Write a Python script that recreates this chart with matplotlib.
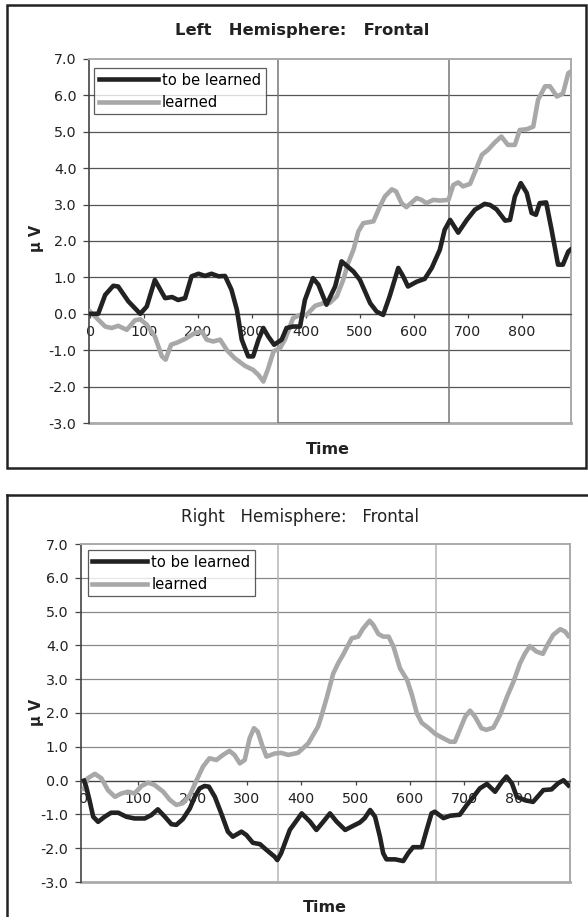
import matplotlib
matplotlib.use('Agg')
import matplotlib.pyplot as plt
from matplotlib.patches import Rectangle
from matplotlib.lines import Line2D

W, H = 588, 917

# Left hemisphere, frontal (time in ms, amplitude in uV)
left_tbl_t = [0, 15, 28, 43, 52, 71, 93, 105, 120, 139, 152, 163, 176, 188, 201, 213, 225, 238, 250,
              262, 272, 281, 293, 302, 312, 321, 330, 341, 355, 364, 376, 389, 398, 413, 423, 438, 454,
              466, 488, 500, 519, 531, 543, 555, 571, 580, 589, 605, 620, 633, 648, 657, 667, 682, 698,
              713, 731, 741, 753, 769, 778, 787, 798, 809, 818, 826, 833, 845, 855, 867, 876, 886, 890]
left_tbl_v = [0.0, 0.0, 0.52, 0.77, 0.75, 0.34, 0.0, 0.2, 0.93, 0.43, 0.46, 0.38, 0.43, 1.03, 1.1, 1.04, 1.1, 1.03, 1.04,
              0.66, 0.11, -0.71, -1.17, -1.17, -0.71, -0.39, -0.62, -0.85, -0.71, -0.39, -0.35, -0.35, 0.38, 0.98, 0.8, 0.25, 0.75,
              1.44, 1.16, 0.93, 0.29, 0.06, -0.03, 0.48, 1.26, 1.03, 0.75, 0.88, 0.96, 1.26, 1.76, 2.31, 2.58, 2.23, 2.58,
              2.86, 3.02, 2.99, 2.87, 2.56, 2.58, 3.22, 3.59, 3.32, 2.77, 2.72, 3.04, 3.06, 2.31, 1.35, 1.35, 1.71, 1.76]

left_lrn_t = [0, 9, 28, 40, 52, 68, 83, 93, 105, 120, 133, 140, 150, 163, 176, 194, 207, 216, 228, 241,
              253, 268, 287, 302, 312, 321, 330, 340, 352, 361, 376, 389, 401, 417, 432, 444, 457, 469,
              478, 488, 497, 506, 525, 537, 546, 559, 567, 577, 586, 596, 605, 614, 623, 636, 648, 664,
              673, 682, 691, 704, 716, 726, 737, 750, 762, 774, 787, 796, 809, 821, 830, 843, 852, 865,
              876, 886, 890]
left_lrn_v = [0.06, -0.07, -0.35, -0.39, -0.33, -0.44, -0.18, -0.15, -0.3, -0.62, -1.17, -1.26, -0.85, -0.78, -0.69, -0.53, -0.48, -0.71, -0.76, -0.71,
              -0.99, -1.22, -1.43, -1.54, -1.68, -1.86, -1.5, -1.03, -0.94, -0.71, -0.12, -0.03, -0.03, 0.22, 0.29, 0.3, 0.48, 0.93,
              1.39, 1.76, 2.26, 2.49, 2.54, 2.95, 3.22, 3.42, 3.36, 3.04, 2.93, 3.06, 3.18, 3.13, 3.04, 3.13, 3.11, 3.13,
              3.54, 3.61, 3.5, 3.57, 4.0, 4.37, 4.5, 4.71, 4.87, 4.64, 4.64, 5.05, 5.07, 5.14, 5.88, 6.25, 6.25, 5.97,
              6.05, 6.61, 6.65]

# Right hemisphere, frontal
right_tbl_t = [0, 4, 10, 17, 26, 38, 50, 63, 78, 93, 112, 124, 136, 149, 161, 170, 182, 195, 204, 213,
               222, 230, 241, 253, 265, 274, 290, 299, 311, 324, 336, 351, 356, 363, 379, 401, 416, 428,
               441, 453, 465, 481, 493, 508, 517, 527, 536, 545, 551, 557, 573, 588, 597, 606, 622, 631,
               640, 646, 662, 674, 692, 705, 717, 729, 742, 757, 769, 778, 788, 797, 812, 827, 846, 861,
               873, 883, 892]
right_tbl_v = [0.0, -0.18, -0.57, -1.07, -1.22, -1.07, -0.95, -0.95, -1.07, -1.12, -1.12, -1.02, -0.85, -1.07, -1.29, -1.31, -1.14, -0.82, -0.48, -0.23,
               -0.16, -0.18, -0.48, -0.98, -1.51, -1.66, -1.51, -1.61, -1.84, -1.88, -2.05, -2.25, -2.35, -2.15, -1.46, -0.97, -1.21, -1.46,
               -1.21, -0.97, -1.21, -1.46, -1.36, -1.24, -1.11, -0.87, -1.07, -1.66, -2.15, -2.33, -2.33, -2.38, -2.15, -1.97, -1.97, -1.46,
               -0.97, -0.92, -1.11, -1.04, -1.01, -0.72, -0.48, -0.23, -0.1, -0.33, -0.05, 0.12, -0.08, -0.48, -0.58, -0.63, -0.28, -0.26,
               -0.08, 0.01, -0.14]

right_lrn_t = [0, 7, 20, 32, 44, 57, 69, 81, 93, 106, 118, 130, 146, 158, 170, 182, 195, 207, 219, 231,
               244, 256, 268, 277, 287, 296, 305, 313, 320, 328, 336, 351, 363, 376, 394, 413, 431, 437,
               447, 459, 468, 477, 493, 505, 514, 526, 533, 542, 551, 561, 570, 582, 595, 604, 613, 622,
               635, 647, 662, 674, 683, 692, 702, 711, 720, 732, 741, 754, 766, 779, 791, 803, 812, 821,
               833, 845, 855, 864, 877, 886, 892]
right_lrn_v = [-0.25, 0.07, 0.2, 0.07, -0.28, -0.48, -0.38, -0.33, -0.38, -0.16, -0.06, -0.13, -0.33, -0.57, -0.72, -0.67, -0.43, 0.0, 0.41, 0.66,
               0.61, 0.76, 0.88, 0.76, 0.51, 0.61, 1.25, 1.55, 1.45, 1.05, 0.71, 0.8, 0.82, 0.76, 0.82, 1.1, 1.6, 1.9,
               2.45, 3.17, 3.47, 3.72, 4.21, 4.26, 4.5, 4.73, 4.6, 4.34, 4.26, 4.26, 3.96, 3.32, 2.98, 2.53, 1.99, 1.71,
               1.55, 1.38, 1.25, 1.15, 1.15, 1.5, 1.89, 2.07, 1.89, 1.55, 1.5, 1.57, 1.94, 2.48, 2.93, 3.47, 3.76, 3.98,
               3.82, 3.75, 4.06, 4.31, 4.48, 4.41, 4.28]

x_ticks = [0, 100, 200, 300, 400, 500, 600, 700, 800]
y_ticks = [-3, -2, -1, 0, 1, 2, 3, 4, 5, 6, 7]

left_window = (348, 665)
right_window = (357, 648)

BLACK = '#222222'
GREY = '#a8a8a8'
TXT = '#222222'


def fx(px):
    return px / W


def fy(py):
    return 1 - py / H


def panel(ax, tbl_t, tbl_v, lrn_t, lrn_v, xlim, window, win_col, grid_col, leg_anchor, hlen):
    ax.plot(tbl_t, tbl_v, color=BLACK, lw=3.3, solid_joinstyle='round', label='to be learned', zorder=4)
    ax.plot(lrn_t, lrn_v, color=GREY, lw=3.3, solid_joinstyle='round', label='learned', zorder=3)

    ax.set_xlim(*xlim)
    ax.set_ylim(-3, 7)
    ax.set_yticks(y_ticks)
    ax.set_yticklabels(['%.1f' % v for v in y_ticks])
    ax.set_xticks(x_ticks)
    ax.set_xticklabels([str(t) for t in x_ticks])

    # horizontal gridlines
    for v in y_ticks[1:-1]:
        ax.axhline(v, color=grid_col, lw=0.9, zorder=1)

    # highlighted time window box
    ax.add_patch(Rectangle((window[0], -3), window[1] - window[0], 10, fill=False,
                           ec=win_col, lw=1.1, zorder=2))

    for s in ['top', 'right']:
        ax.spines[s].set_color('#aaaaaa')
        ax.spines[s].set_linewidth(1.4)
    ax.spines['left'].set_color('#444444')
    ax.spines['left'].set_linewidth(1.2)
    ax.spines['bottom'].set_position(('data', 0))
    ax.spines['bottom'].set_color('#444444')
    ax.spines['bottom'].set_linewidth(0.9)
    ax.axhline(-3, color='#aaaaaa', lw=2.0, zorder=1, clip_on=False)

    ax.tick_params(axis='y', direction='out', length=4, width=0.9, color='#444444',
                   labelsize=10.3, labelcolor=TXT, pad=5)
    ax.tick_params(axis='x', direction='out', length=3, width=0.9, color='#444444',
                   labelsize=10.3, labelcolor=TXT, pad=5)

    leg = ax.legend(loc='upper left', bbox_to_anchor=leg_anchor, borderaxespad=0,
                    fancybox=False, frameon=True, fontsize=10.6, handlelength=hlen,
                    handletextpad=0.3, labelspacing=0.5, borderpad=0.3)
    leg.get_frame().set_edgecolor('#333333')
    leg.get_frame().set_linewidth(0.9)
    for line in leg.get_lines():
        line.set_linewidth(3.3)


fig = plt.figure(figsize=(W / 100, H / 100), dpi=100)

# top panel
ax1 = fig.add_axes([fx(89), fy(423), (571 - 89) / W, (423 - 59) / H])
panel(ax1, left_tbl_t, left_tbl_v, left_lrn_t, left_lrn_v, (-2, 891),
      left_window, '#777777', '#555555', (0.011, 0.975), 4.0)

# bottom panel
ax2 = fig.add_axes([fx(81), fy(882), (570 - 81) / W, (882 - 544) / H])
panel(ax2, right_tbl_t, right_tbl_v, right_lrn_t, right_lrn_v, (-5.5, 895),
      right_window, '#b5b5b5', '#888888', (0.014, 0.982), 3.7)

# titles and axis labels
fig.text(fx(302), fy(30), 'Left   Hemisphere:   Frontal', ha='center', va='center',
         fontsize=11.8, fontweight='bold', color=TXT)
fig.text(fx(300), fy(517), 'Right   Hemisphere:   Frontal', ha='center', va='center',
         fontsize=12, color=TXT)
fig.text(fx(328), fy(450), 'Time', ha='center', va='center', fontsize=11.5,
         fontweight='bold', color=TXT)
fig.text(fx(325), fy(907), 'Time', ha='center', va='center', fontsize=11.5,
         fontweight='bold', color=TXT)
fig.text(fx(36), fy(238), 'μ V', ha='center', va='center', rotation=90,
         fontsize=10.5, fontweight='bold', color=TXT)
fig.text(fx(36), fy(712), 'μ V', ha='center', va='center', rotation=90,
         fontsize=10.5, fontweight='bold', color=TXT)

# chart frames
fig.add_artist(Rectangle((fx(7), fy(468)), (586 - 7) / W, (468 - 5) / H, fill=False,
                         ec='#222222', lw=1.8, transform=fig.transFigure))
fig.add_artist(Line2D([fx(7), fx(588)], [fy(495), fy(495)], color='#222222', lw=1.8))
fig.add_artist(Line2D([fx(7), fx(7)], [fy(495), fy(917)], color='#222222', lw=1.8))

fig.savefig('out.png', dpi=100)
